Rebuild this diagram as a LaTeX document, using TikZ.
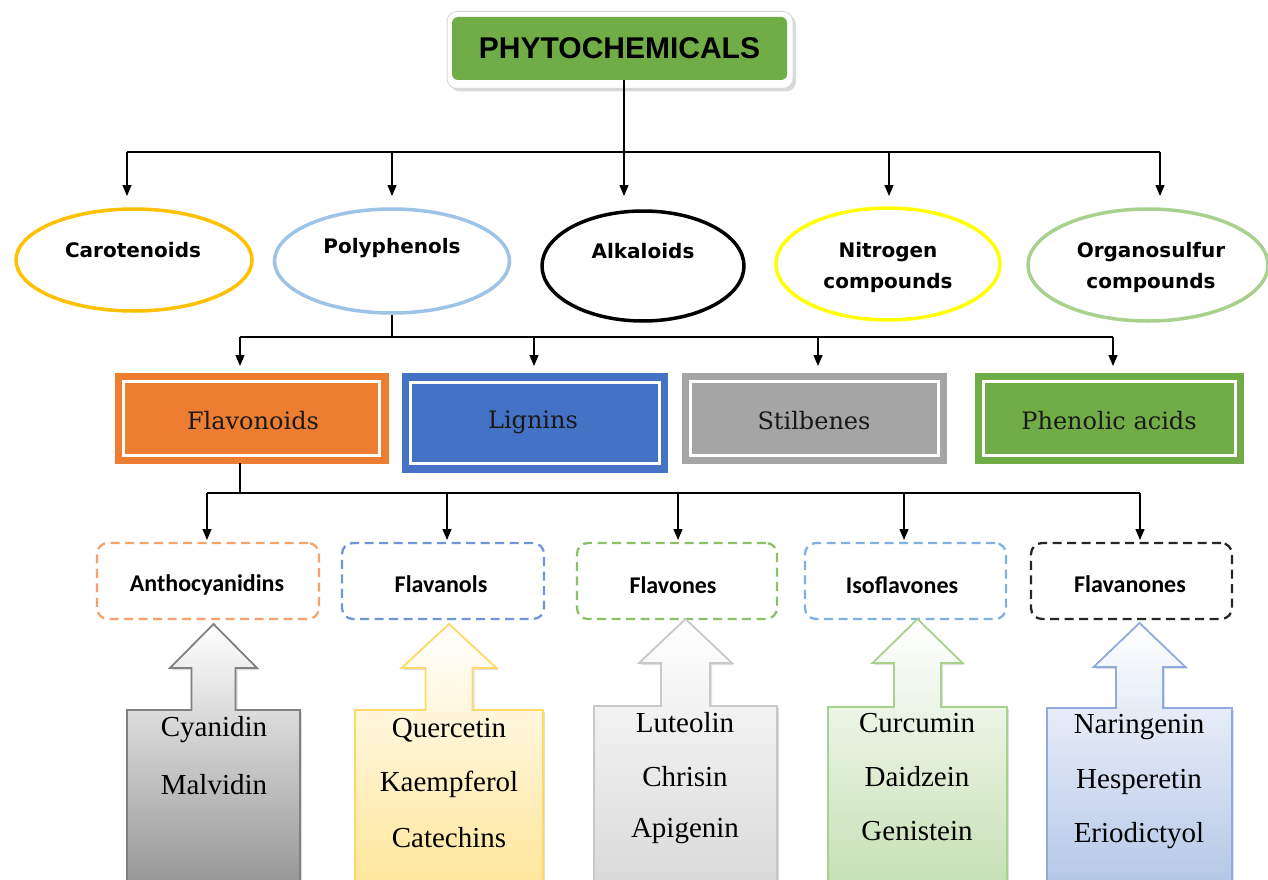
\documentclass[tikz,border=0pt]{standalone}
\usepackage{fontspec}
\newfontfamily\headfont{Liberation Sans}
\newfontfamily\ellfont{DejaVu Sans}
\newfontfamily\boxfont{DejaVu Serif}
\newfontfamily\subfont{Carlito}
\newfontfamily\listfont{Liberation Serif}
\usetikzlibrary{shapes.geometric,arrows.meta,shadows}
\definecolor{greenF}{HTML}{70AD47}
\definecolor{orangeF}{HTML}{ED7D31}
\definecolor{blueF}{HTML}{4472C4}
\definecolor{grayF}{HTML}{A5A5A5}
\definecolor{carot}{HTML}{FFC000}
\definecolor{polyb}{HTML}{9DC3E6}
\definecolor{nitro}{HTML}{FFFF00}
\definecolor{orgs}{HTML}{A9D18E}
\definecolor{dOr}{HTML}{F4A36B}
\definecolor{dBl}{HTML}{7295D6}
\definecolor{dGr}{HTML}{8CC068}
\definecolor{dLb}{HTML}{7FB0E0}
\definecolor{dBk}{HTML}{262626}
\definecolor{cGrS}{HTML}{808080}
\definecolor{cGrF}{HTML}{969696}
\definecolor{cYeS}{HTML}{FFD966}
\definecolor{cYeF}{HTML}{FFE699}
\definecolor{cLgS}{HTML}{C8C8C8}
\definecolor{cLgF}{HTML}{D9D9D9}
\definecolor{cGnS}{HTML}{A9D18E}
\definecolor{cGnF}{HTML}{C5E0B4}
\definecolor{cBlS}{HTML}{8FAADC}
\definecolor{cBlF}{HTML}{B4C7E7}
% #1 centre x, #2 box half width, #3 shaft half width, #4 head half width,
% #5 tip y, #6 box top y, #7 stroke colour, #8 bottom fill colour
\newcommand\makeupcall[8]{%
  \path[draw=#7, line width=1.8pt, top color=white, bottom color=#8,
        drop shadow={shadow xshift=2pt, shadow yshift=-2pt, opacity=0.25}]
    ({#1-#2},886) -- ({#1-#2},#6) -- ({#1-#3},#6) -- ({#1-#3},{#5+44})
    -- ({#1-#4},{#5+44}) -- (#1,#5) -- ({#1+#4},{#5+44}) -- ({#1+#3},{#5+44})
    -- ({#1+#3},#6) -- ({#1+#2},#6) -- ({#1+#2},886);}
\begin{document}
\begin{tikzpicture}[x=1pt,y=-1pt,
  conn/.style={line width=1.2pt, black},
  arr/.style={conn, -{Triangle[width=9pt,length=11pt]}},
  ellbox/.style={ellipse, line width=3.5pt, fill=white, inner sep=0pt},
  elltext/.style={font=\ellfont\bfseries\fontsize{20}{31}\selectfont, align=center, inner sep=0pt},
  catbox/.style={draw=#1, fill=#1, line width=0pt, inner sep=0pt},
  inframe/.style={draw=white, line width=3pt, inner sep=0pt},
  cattext/.style={font=\boxfont\fontsize{24}{28}\selectfont, text=black!90, inner sep=0pt},
  subbox/.style={draw=#1, rounded corners=11pt, line width=2.3pt, dash pattern=on 9pt off 5.5pt,
    minimum width=200, minimum height=76, inner sep=0pt},
  subtext/.style={font=\subfont\bfseries\fontsize{24}{28}\selectfont, inner sep=0pt},
  listtext/.style={font=\listfont\fontsize{29}{34}\selectfont, inner sep=0pt}
]
\useasboundingbox (0,0) rectangle (1268,880);
\clip (0,0) rectangle (1268,880);

% ---- top node
\node[rounded corners=10pt, draw=black!15, line width=1pt, fill=white,
      minimum width=346, minimum height=77,
      drop shadow={shadow xshift=3pt, shadow yshift=-3pt, opacity=0.3}] (frame) at (620,50) {};
\node[rounded corners=6pt, fill=greenF, minimum width=335, minimum height=63, inner sep=0pt]
  (top) at (619.5,48.5) {\headfont\bfseries\fontsize{30}{36}\selectfont PHYTOCHEMICALS};

% ---- first level ellipses
\node[ellbox, draw=carot, minimum width=236, minimum height=102] (car) at (134,260) {};
\node[ellbox, draw=polyb, minimum width=235, minimum height=104] (poly) at (392,261) {};
\node[ellbox, draw=black, minimum width=202, minimum height=110] (alk) at (643,266) {};
\node[ellbox, draw=nitro, minimum width=224, minimum height=112] (nit) at (888,264) {};
\node[ellbox, draw=orgs, minimum width=240, minimum height=112] (org) at (1148,265) {};
\node[elltext] (cart) at (133,250) {Carotenoids};
\node[elltext] (polyt) at (392,248) {Polyphenols};
\node[elltext] (alkt) at (643,251) {Alkaloids};
\node[elltext] (nitt) at (888,267) {Nitrogen\\compounds};
\node[elltext] (orgt) at (1151,267) {Organosulfur\\compounds};

% ---- connectors level 1
\coordinate (j1) at (624,152);
\coordinate (b1l) at (127,152);
\coordinate (b1r) at (1160,152);
\coordinate (b1b) at (392,152);
\coordinate (b1d) at (889,152);
\draw[conn] (top.south -| j1) -- (j1);
\draw[conn] (b1l) -- (b1r);
\draw[arr] (b1l) -- ++(0,44);
\draw[arr] (b1b) -- ++(0,44);
\draw[arr] (j1) -- ++(0,44);
\draw[arr] (b1d) -- ++(0,44);
\draw[arr] (b1r) -- ++(0,44);

% ---- second level boxes
\node[catbox=orangeF, minimum width=273, minimum height=90] (flav) at (251.5,418) {};
\node[catbox=blueF, minimum width=265, minimum height=99] (lig) at (534.5,422.5) {};
\node[catbox=grayF, minimum width=264, minimum height=90] (sti) at (814,418) {};
\node[catbox=greenF, minimum width=268, minimum height=90] (phe) at (1109,418) {};
\node[inframe, minimum width=256, minimum height=74] at (flav.center) {};
\node[inframe, minimum width=249, minimum height=81] at (lig.center) {};
\node[inframe, minimum width=248, minimum height=74] at (sti.center) {};
\node[inframe, minimum width=252, minimum height=74] at (phe.center) {};
\node[cattext] (flavt) at (253,421) {Flavonoids};
\node[cattext] (ligt) at (533,422) {Lignins};
\node[cattext] (stit) at (814,421) {Stilbenes};
\node[cattext] (phet) at (1109,421) {Phenolic acids};

% ---- connectors level 2
\coordinate (b2l) at (240,337);
\coordinate (b2r) at (1113,337);
\coordinate (b2b) at (534,337);
\coordinate (b2c) at (818,337);
\draw[conn] (poly.south) -- (poly.south |- b2l);
\draw[conn] (b2l) -- (b2r);
\draw[arr] (b2l) -- ++(0,29);
\draw[arr] (b2b) -- ++(0,29);
\draw[arr] (b2c) -- ++(0,29);
\draw[arr] (b2r) -- ++(0,29);

% ---- third level dashed boxes
\node[subbox=dOr, minimum width=222] (ant) at (208,581) {};
\node[subbox=dBl, minimum width=202] (fln) at (443,581) {};
\node[subbox=dGr] (flo) at (677,581) {};
\node[subbox=dLb, minimum width=201] (iso) at (905.5,581) {};
\node[subbox=dBk, minimum width=201] (fnn) at (1131.5,581) {};
\node[subtext] (antt) at (207,585) {Anthocyanidins};
\node[subtext] (flnt) at (441,584) {Flavanols};
\node[subtext] (flot) at (673,585) {Flavones};
\node[subtext] (isot) at (902,585) {Isoflavones};
\node[subtext] (fnnt) at (1130,584) {Flavanones};

% ---- connectors level 3
\coordinate (b3l) at (207,493);
\coordinate (b3r) at (1140,493);
\coordinate (b3b) at (447,493);
\coordinate (b3c) at (678,493);
\coordinate (b3d) at (904,493);
\coordinate (j3) at (240,493);
\draw[conn] (flav.south -| j3) -- (j3);
\draw[conn] (b3l) -- (b3r);
\draw[arr] (b3l) -- ++(0,47);
\draw[arr] (b3b) -- ++(0,47);
\draw[arr] (b3c) -- ++(0,47);
\draw[arr] (b3d) -- ++(0,47);
\draw[arr] (b3r) -- ++(0,47);

% ---- up-arrow callouts
\makeupcall{213.5}{86.5}{22}{43.5}{624}{710}{cGrS}{cGrF}
\makeupcall{449}{94}{23.5}{47.5}{624}{710}{cYeS}{cYeF}
\makeupcall{685.5}{91.5}{24.5}{46.5}{619}{706}{cLgS}{cLgF}
\makeupcall{917.5}{89.5}{23.5}{45}{619}{707}{cGnS}{cGnF}
\makeupcall{1139.5}{92.5}{23.5}{46}{623}{708}{cBlS}{cBlF}

\node[listtext] (cy) at (214,730) {Cyanidin};
\node[listtext] (ma) at (214,785) {Malvidin};
\node[listtext] (qu) at (449,730) {Quercetin};
\node[listtext] (ka) at (449,784) {Kaempferol};
\node[listtext] (ca) at (449,838) {Catechins};
\node[listtext] (lu) at (685,723) {Luteolin};
\node[listtext] (ch) at (685,777) {Chrisin};
\node[listtext] (ap) at (685,831) {Apigenin};
\node[listtext] (cu) at (917,723) {Curcumin};
\node[listtext] (da) at (917,777) {Daidzein};
\node[listtext] (ge) at (917,831) {Genistein};
\node[listtext] (na) at (1139,727) {Naringenin};
\node[listtext] (he) at (1139,782) {Hesperetin};
\node[listtext] (er) at (1139,836) {Eriodictyol};
\end{tikzpicture}
\end{document}
